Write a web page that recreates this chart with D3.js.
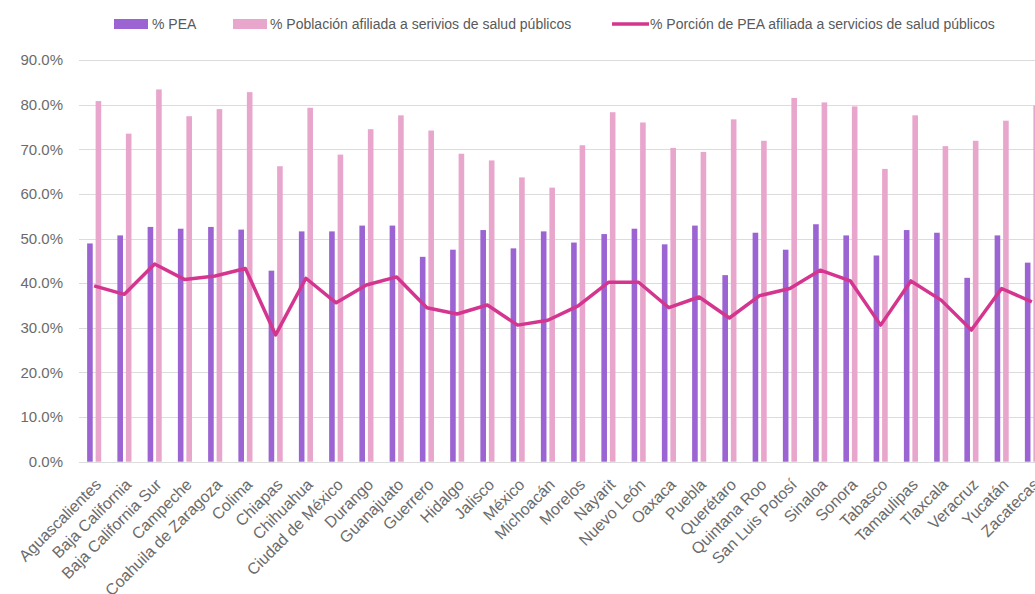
<!DOCTYPE html>
<html>
<head>
<meta charset="utf-8">
<script src="https://cdn.jsdelivr.net/npm/d3@7"></script>
<style>
  body { margin: 0; background: #fff; overflow: hidden; }
  svg { display: block; font-family: "Liberation Sans", Arial, sans-serif; }
</style>
</head>
<body>
<script>
// estados y series (en %)
var estados = ["Aguascalientes", "Baja California", "Baja California Sur", "Campeche",
  "Coahuila de Zaragoza", "Colima", "Chiapas", "Chihuahua", "Ciudad de México", "Durango",
  "Guanajuato", "Guerrero", "Hidalgo", "Jalisco", "México", "Michoacán", "Morelos", "Nayarit",
  "Nuevo León", "Oaxaca", "Puebla", "Querétaro", "Quintana Roo", "San Luis Potosí", "Sinaloa",
  "Sonora", "Tabasco", "Tamaulipas", "Tlaxcala", "Veracruz", "Yucatán", "Zacatecas"];

var pea = [48.9, 50.7, 52.6, 52.2, 52.6, 52.0, 42.8, 51.6, 51.6, 52.9,
  52.9, 45.9, 47.5, 51.9, 47.8, 51.6, 49.1, 51.0, 52.2, 48.7,
  52.9, 41.8, 51.3, 47.5, 53.2, 50.7, 46.2, 51.9, 51.3, 41.2, 50.7, 44.6];

var afiliada = [80.8, 73.5, 83.4, 77.4, 79.0, 82.8, 66.2, 79.3, 68.8, 74.5,
  77.6, 74.2, 69.0, 67.5, 63.7, 61.4, 70.9, 78.3, 76.0, 70.3,
  69.4, 76.7, 71.9, 81.5, 80.5, 79.6, 65.6, 77.6, 70.7, 71.9, 76.4, 79.8];

var porcion = [39.4, 37.5, 44.3, 40.8, 41.6, 43.3, 28.4, 41.1, 35.6, 39.6,
  41.4, 34.5, 33.1, 35.1, 30.6, 31.7, 34.9, 40.2, 40.2, 34.5,
  36.9, 32.2, 37.2, 38.8, 42.9, 40.5, 30.6, 40.5, 36.2, 29.5, 38.8, 35.8];

var yTicks = [0, 10, 20, 30, 40, 50, 60, 70, 80, 90];

var leyenda = ["% PEA", "% Población afiliada a serivios de salud públicos",
  "% Porción de PEA afiliada a servicios de salud públicos"];

var colores = { pea: "#9b64d2", afiliada: "#e8a6cc", linea: "#d4368f" };

var W = 1035, H = 594;
var plotLeft = 79, plotRight = 1047, plotTop = 60, plotBottom = 461.7;

var svg = d3.select("body").append("svg")
  .attr("width", W)
  .attr("height", H);

var x = d3.scaleBand()
  .domain(estados)
  .range([plotLeft, plotRight]);

var y = d3.scaleLinear()
  .domain([0, 90])
  .range([plotBottom, plotTop]);

// grid lines
svg.append("g")
  .selectAll("line")
  .data(yTicks)
  .enter().append("line")
  .attr("x1", plotLeft)
  .attr("x2", W)
  .attr("y1", function(d) { return Math.round(y(d)) + 0.5; })
  .attr("y2", function(d) { return Math.round(y(d)) + 0.5; })
  .attr("stroke", "#dcdcdc")
  .attr("stroke-width", 1);

// y axis labels
var yAxis = svg.append("g")
  .attr("transform", "translate(" + 63 + ",0)")
  .call(d3.axisLeft(y).tickValues(yTicks).tickSize(0).tickPadding(0)
    .tickFormat(function(d) { return d3.format(".1f")(d) + "%"; }));
yAxis.select(".domain").remove();
yAxis.selectAll("text")
  .attr("fill", "#6b6b6b")
  .attr("font-size", 15)
  .attr("font-family", "Liberation Sans, Arial, sans-serif");

var c = function(d) { return x(d) + x.bandwidth() / 2; };

// bars % PEA
svg.append("g")
  .selectAll("rect")
  .data(estados)
  .enter().append("rect")
  .attr("x", function(d) { return c(d) - 7; })
  .attr("y", function(d, i) { return y(pea[i]); })
  .attr("width", 5.6)
  .attr("height", function(d, i) { return plotBottom - y(pea[i]); })
  .attr("fill", colores.pea);

// bars % poblacion afiliada
svg.append("g")
  .selectAll("rect")
  .data(estados)
  .enter().append("rect")
  .attr("x", function(d) { return c(d) + 1.5; })
  .attr("y", function(d, i) { return y(afiliada[i]); })
  .attr("width", 5.6)
  .attr("height", function(d, i) { return plotBottom - y(afiliada[i]); })
  .attr("fill", colores.afiliada);

// line
var line = d3.line()
  .x(function(d, i) { return c(estados[i]); })
  .y(function(d) { return y(d); });

svg.append("path")
  .datum(porcion)
  .attr("d", line)
  .attr("fill", "none")
  .attr("stroke", colores.linea)
  .attr("stroke-width", 3.5)
  .attr("stroke-linejoin", "round");

// x axis labels
var xAxis = svg.append("g")
  .attr("transform", "translate(0," + plotBottom + ")")
  .call(d3.axisBottom(x).tickSize(0));
xAxis.select(".domain").remove();
xAxis.selectAll("text")
  .attr("fill", "#6b6b6b")
  .attr("font-size", 16)
  .attr("font-family", "Liberation Sans, Arial, sans-serif")
  .attr("text-anchor", "end")
  .attr("y", 0)
  .attr("dy", 0)
  .attr("transform", "translate(8,24) rotate(-45)");

// legend
var leg = svg.append("g")
  .attr("font-size", 14)
  .attr("fill", "#595959");

leg.append("rect").attr("x", 114).attr("y", 19).attr("width", 34).attr("height", 10).attr("fill", colores.pea);
leg.append("text").attr("x", 152).attr("y", 24).attr("dy", "0.35em").text(leyenda[0]);

leg.append("rect").attr("x", 233).attr("y", 19).attr("width", 34).attr("height", 10).attr("fill", colores.afiliada);
leg.append("text").attr("x", 270).attr("y", 24).attr("dy", "0.35em").text(leyenda[1]);

leg.append("line").attr("x1", 612).attr("x2", 649).attr("y1", 24).attr("y2", 24)
  .attr("stroke", colores.linea).attr("stroke-width", 3.5);
leg.append("text").attr("x", 650).attr("y", 24).attr("dy", "0.35em").text(leyenda[2]);
</script>
</body>
</html>
